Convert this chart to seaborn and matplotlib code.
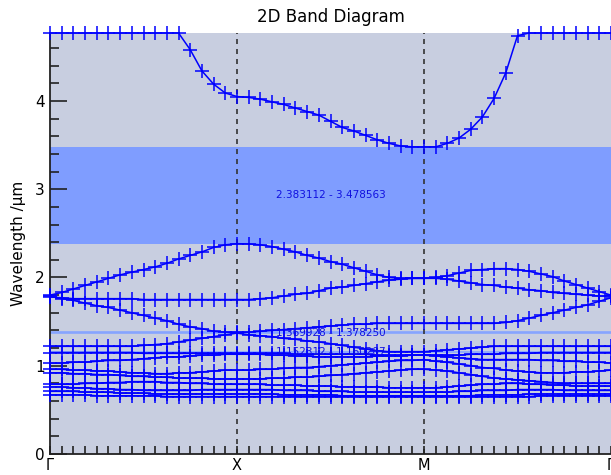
import pandas as pd
import numpy as np
import seaborn as sns
import matplotlib.pyplot as plt
from matplotlib.ticker import MultipleLocator

# k-path: 16 steps per segment, Gamma - X - M - Gamma
k_index = list(range(49))
sym_pos = [0, 16, 32, 48]
sym_labels = ["\u0393", "X", "M", "\u0393"]

# photonic bands (wavelength in um, top band clipped at 4.77)
band1 = [4.77, 4.77, 4.77, 4.77, 4.77, 4.77, 4.77, 4.77, 4.77, 4.77, 4.77, 4.77, 4.58, 4.34, 4.19, 4.09, 4.05,
         4.04, 4.02, 3.99, 3.96, 3.92, 3.88, 3.84, 3.77, 3.70, 3.66, 3.61, 3.56, 3.52, 3.49, 3.48, 3.479,
         3.48, 3.52, 3.58, 3.68, 3.82, 4.03, 4.32, 4.74, 4.77, 4.77, 4.77, 4.77, 4.77, 4.77, 4.77, 4.77]
band2 = [1.80, 1.83, 1.87, 1.91, 1.95, 1.99, 2.03, 2.06, 2.09, 2.12, 2.16, 2.21, 2.25, 2.29, 2.34, 2.37, 2.383,
         2.38, 2.37, 2.35, 2.32, 2.29, 2.25, 2.22, 2.18, 2.15, 2.11, 2.07, 2.03, 2.00, 1.99, 1.99, 1.99,
         2.00, 2.02, 2.05, 2.08, 2.09, 2.10, 2.10, 2.09, 2.07, 2.04, 2.01, 1.96, 1.92, 1.88, 1.84, 1.80]
band3 = [1.78, 1.77, 1.76, 1.76, 1.76, 1.76, 1.76, 1.76, 1.75, 1.75, 1.75, 1.75, 1.75, 1.75, 1.75, 1.75, 1.75,
         1.75, 1.76, 1.77, 1.79, 1.81, 1.82, 1.85, 1.88, 1.89, 1.91, 1.93, 1.95, 1.97, 1.98, 1.99, 1.99,
         1.99, 1.98, 1.96, 1.94, 1.92, 1.91, 1.89, 1.88, 1.86, 1.85, 1.83, 1.82, 1.81, 1.80, 1.79, 1.79]
band4 = [1.79, 1.76, 1.74, 1.71, 1.68, 1.66, 1.63, 1.60, 1.57, 1.54, 1.51, 1.47, 1.44, 1.42, 1.39, 1.38, 1.378,
         1.38, 1.39, 1.40, 1.41, 1.42, 1.43, 1.44, 1.45, 1.46, 1.47, 1.47, 1.48, 1.48, 1.48, 1.48, 1.48,
         1.48, 1.48, 1.48, 1.48, 1.48, 1.48, 1.49, 1.51, 1.54, 1.57, 1.60, 1.63, 1.66, 1.69, 1.73, 1.77]
band5 = [1.22, 1.22, 1.22, 1.22, 1.22, 1.22, 1.22, 1.22, 1.23, 1.24, 1.25, 1.27, 1.29, 1.31, 1.33, 1.35, 1.37,
         1.35, 1.34, 1.33, 1.31, 1.30, 1.28, 1.27, 1.25, 1.23, 1.21, 1.19, 1.17, 1.16, 1.16, 1.16, 1.16,
         1.17, 1.18, 1.19, 1.20, 1.21, 1.22, 1.22, 1.22, 1.22, 1.22, 1.22, 1.22, 1.22, 1.22, 1.22, 1.22]
band6 = [1.15, 1.15, 1.15, 1.15, 1.15, 1.15, 1.15, 1.15, 1.14, 1.14, 1.14, 1.14, 1.14, 1.14, 1.14, 1.14, 1.14,
         1.14, 1.14, 1.14, 1.14, 1.13, 1.13, 1.13, 1.13, 1.13, 1.13, 1.13, 1.12, 1.12, 1.12, 1.12, 1.12,
         1.12, 1.12, 1.12, 1.13, 1.13, 1.13, 1.14, 1.14, 1.14, 1.15, 1.15, 1.15, 1.15, 1.15, 1.15, 1.15]
band7 = [1.03, 1.03, 1.04, 1.04, 1.05, 1.06, 1.06, 1.07, 1.08, 1.09, 1.10, 1.10, 1.11, 1.12, 1.12, 1.13, 1.13,
         1.13, 1.13, 1.12, 1.12, 1.11, 1.11, 1.10, 1.10, 1.10, 1.10, 1.10, 1.11, 1.11, 1.11, 1.12, 1.12,
         1.11, 1.10, 1.09, 1.08, 1.07, 1.07, 1.07, 1.07, 1.07, 1.06, 1.06, 1.05, 1.05, 1.04, 1.04, 1.03]
band8 = [0.96, 0.96, 0.95, 0.95, 0.94, 0.94, 0.93, 0.92, 0.92, 0.91, 0.91, 0.92, 0.92, 0.93, 0.94, 0.95, 0.95,
         0.95, 0.96, 0.96, 0.97, 0.98, 0.98, 0.99, 1.00, 1.01, 1.02, 1.03, 1.04, 1.05, 1.06, 1.06, 1.07,
         1.05, 1.04, 1.02, 1.00, 0.98, 0.97, 0.95, 0.94, 0.93, 0.92, 0.92, 0.92, 0.93, 0.93, 0.94, 0.95]
band9 = [0.92, 0.92, 0.91, 0.91, 0.90, 0.90, 0.89, 0.88, 0.88, 0.87, 0.87, 0.86, 0.86, 0.86, 0.85, 0.85, 0.85,
         0.85, 0.85, 0.86, 0.86, 0.87, 0.87, 0.88, 0.89, 0.90, 0.91, 0.92, 0.93, 0.94, 0.95, 0.96, 0.96,
         0.95, 0.94, 0.92, 0.90, 0.88, 0.86, 0.85, 0.84, 0.83, 0.82, 0.81, 0.80, 0.80, 0.80, 0.80, 0.80]
band10 = [0.79, 0.79, 0.79, 0.80, 0.80, 0.81, 0.81, 0.82, 0.82, 0.82, 0.81, 0.81, 0.80, 0.80, 0.79, 0.79, 0.79,
          0.79, 0.79, 0.78, 0.78, 0.78, 0.77, 0.77, 0.77, 0.76, 0.76, 0.76, 0.76, 0.75, 0.75, 0.75, 0.75,
          0.75, 0.76, 0.77, 0.78, 0.79, 0.79, 0.80, 0.80, 0.79, 0.79, 0.78, 0.78, 0.77, 0.77, 0.77, 0.77]
band11 = [0.76, 0.76, 0.75, 0.75, 0.74, 0.74, 0.73, 0.73, 0.72, 0.72, 0.72, 0.72, 0.72, 0.73, 0.73, 0.73, 0.73,
          0.73, 0.73, 0.73, 0.72, 0.72, 0.72, 0.71, 0.71, 0.71, 0.70, 0.70, 0.70, 0.70, 0.70, 0.70, 0.70,
          0.70, 0.70, 0.71, 0.71, 0.72, 0.72, 0.72, 0.73, 0.73, 0.73, 0.73, 0.72, 0.72, 0.72, 0.72, 0.72]
band12 = [0.71, 0.71, 0.71, 0.70, 0.70, 0.70, 0.69, 0.69, 0.69, 0.68, 0.68, 0.68, 0.68, 0.68, 0.68, 0.68, 0.68,
          0.68, 0.68, 0.68, 0.67, 0.67, 0.67, 0.67, 0.67, 0.66, 0.66, 0.66, 0.66, 0.66, 0.66, 0.66, 0.66,
          0.66, 0.66, 0.66, 0.66, 0.67, 0.67, 0.67, 0.67, 0.68, 0.68, 0.68, 0.68, 0.68, 0.68, 0.68, 0.68]
band13 = [0.67, 0.67, 0.67, 0.67, 0.66, 0.66, 0.66, 0.66, 0.66, 0.66, 0.65, 0.65, 0.65, 0.65, 0.65, 0.65, 0.65,
          0.65, 0.65, 0.65, 0.65, 0.65, 0.65, 0.65, 0.65, 0.65, 0.65, 0.65, 0.65, 0.65, 0.65, 0.65, 0.65,
          0.65, 0.65, 0.65, 0.65, 0.65, 0.65, 0.65, 0.65, 0.65, 0.66, 0.66, 0.66, 0.66, 0.66, 0.66, 0.66]

# band gaps (lower, upper) in um
gap_big = (2.383112, 3.478563)
gap_small1 = (1.369928, 1.378250)
gap_small2 = (1.152312, 1.160287)

bands = [band1, band2, band3, band4, band5, band6, band7, band8, band9, band10, band11, band12, band13]
rows = []
for b, vals in enumerate(bands):
    for k, v in zip(k_index, vals):
        rows.append({"band": b, "k": k, "wavelength": v})
df = pd.DataFrame(rows)

fig = plt.figure(figsize=(6.11, 4.75), dpi=100)
ax = fig.add_axes([50 / 611, 21 / 475, 561 / 611, 421 / 475])
ax.set_facecolor("#C8CEE0")

# gaps
ax.axhspan(*gap_big, color="#7F9DFF", lw=0, zorder=0.5)
for g in (gap_small1, gap_small2):
    ax.axhspan(*g, facecolor="#86A4FF", edgecolor="#86A4FF", lw=1.2, zorder=0.5)

# symmetry point lines
for p in sym_pos[1:3]:
    ax.axvline(p, color="#333333", lw=1.2, ls=(0, (3, 3)), zorder=1)

sns.lineplot(data=df, x="k", y="wavelength", units="band", estimator=None,
             color="#0000FF", linewidth=1.1, marker="+", markersize=10,
             markeredgewidth=1.1, markeredgecolor="#0000FF", clip_on=False,
             legend=False, ax=ax, zorder=3)

for g in (gap_big, gap_small1, gap_small2):
    ax.text(24, (g[0] + g[1]) / 2, f"{g[0]:.6f} - {g[1]:.6f}", color="#1010E0",
            fontsize=7.5, ha="center", va="center", zorder=4)

ax.set_xlim(0, 48)
ax.set_ylim(0, 4.77)
ax.set_xticks(sym_pos)
ax.set_xticklabels(sym_labels)
ax.xaxis.set_minor_locator(MultipleLocator(1))
ax.yaxis.set_major_locator(MultipleLocator(1))
ax.yaxis.set_minor_locator(MultipleLocator(0.2))
ax.tick_params(axis="both", which="both", direction="in", color="#222222", width=1.2, labelsize=11)
ax.tick_params(axis="x", labelsize=10.5)
ax.tick_params(axis="y", which="major", length=12, pad=4)
ax.tick_params(axis="y", which="minor", length=6.5)
ax.tick_params(axis="x", which="major", length=6, pad=3)
ax.tick_params(axis="x", which="minor", length=5.5)
for s in ["top", "right"]:
    ax.spines[s].set_visible(False)
for s in ["left", "bottom"]:
    ax.spines[s].set_color("#222222")
    ax.spines[s].set_linewidth(1.3)

ax.set_xlabel("")
ax.set_ylabel("Wavelength /\u03bcm", fontsize=11, labelpad=6)
ax.set_title("2D Band Diagram", fontsize=12, pad=8)

fig.savefig("out.png", dpi=100)
